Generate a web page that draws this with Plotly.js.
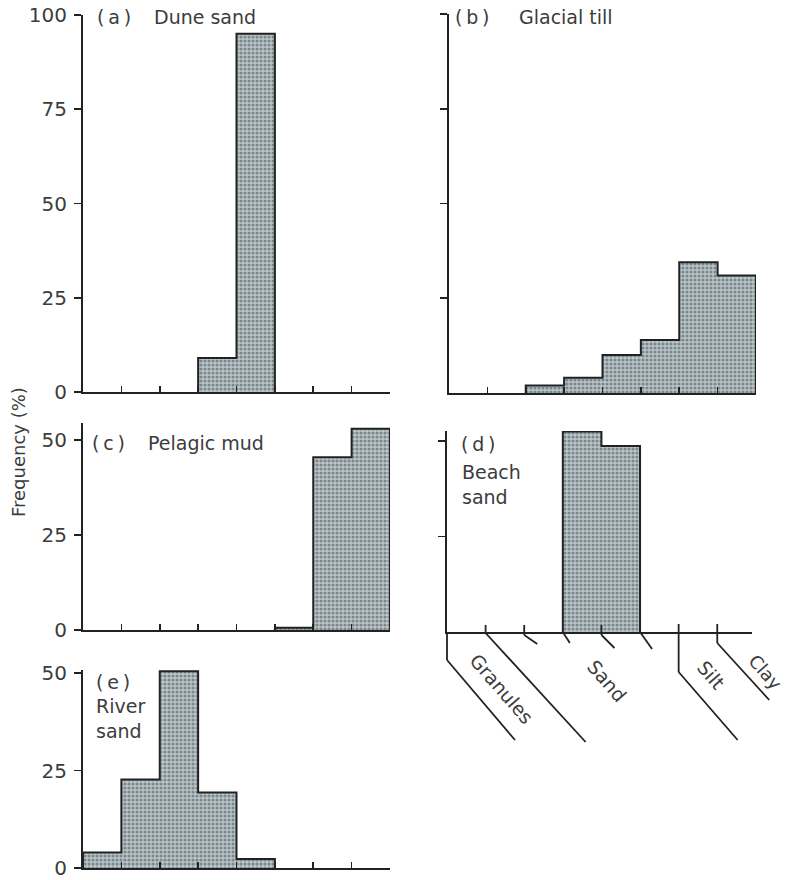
<!DOCTYPE html>
<html>
<head>
<meta charset="utf-8">
<script src="https://cdn.plot.ly/plotly-3.0.1.min.js"></script>
<style>html,body{margin:0;padding:0;background:#fff;}#chart{width:790px;height:880px;}</style>
</head>
<body>
<div id="chart"></div>
<script>
// ---- data (frequency % per grain-size class, 8 classes from coarse to fine) ----
const duneSand    = [0, 0, 0, 9, 95, 0, 0, 0];
const glacialTill = [0, 0, 2, 4, 10, 14, 34.5, 31];
const pelagicMud  = [0, 0, 0, 0, 0, 0.6, 45.5, 53];
const beachSand   = [0, 0, 0, 52.5, 48.7, 0, 0, 0];
const riverSand   = [4, 22.7, 50.5, 19.4, 2.3, 0, 0, 0];

const panelLetters = ['(\u2009a\u2009)', '(\u2009b\u2009)', '(\u2009c\u2009)', '(\u2009d\u2009)', '(\u2009e\u2009)'];
const panelNames   = ['Dune sand', 'Glacial till', 'Pelagic mud', 'Beach<br>sand', 'River<br>sand'];
const yTickVals   = [[0, 25, 50, 75, 100], [25, 50, 75, 100], [0, 25, 50], [25, 50], [0, 25, 50]];
const yTickText   = [['0', '25', '50', '75', '100'], null, ['0', '25', '50'], null, ['0', '25', '50']];
const sizeClassNames  = ['Granules', 'Sand', 'Silt', 'Clay'];
const classBoundaries = [0, 1, 2, 3, 4, 5, 6, 7];
const yAxisTitle = 'Frequency (%)';

// ---- layout helpers ----
const W = 790, H = 880;
const FONT = '"DejaVu Sans", "Noto Sans", sans-serif';
const INK = '#222';
const TXT = '#3c3c3c';
const px = v => v / W;
const py = v => 1 - v / H;

const series = [duneSand, glacialTill, pelagicMud, beachSand, riverSand];
// panel frames in pixels: [left, right, bottom, top], y range max
const frames = [
  {l: 83,  r: 390, b: 392, t: 15,  ymax: 100, xmax: 8},
  {l: 449, r: 756, b: 393, t: 14,  ymax: 100, xmax: 8},
  {l: 83,  r: 390, b: 630, t: 423, ymax: 54.5, xmax: 8},
  {l: 447, r: 752, b: 632, t: 431, ymax: 52.6, xmax: 7.9},
  {l: 83,  r: 390, b: 868, t: 670, ymax: 50.8, xmax: 8}
];

const traces = [];
const layout = {
  width: W, height: H,
  margin: {l: 0, r: 0, t: 0, b: 0},
  paper_bgcolor: '#fff', plot_bgcolor: 'rgba(0,0,0,0)',
  showlegend: false,
  font: {family: FONT, color: TXT},
  annotations: [], shapes: [],
  bargap: 0
};

series.forEach((vals, p) => {
  const k = p === 0 ? '' : String(p + 1);
  const xa = 'x' + k, ya = 'y' + k;
  const f = frames[p];
  const xs = vals.map((v, i) => i + 0.5);
  traces.push({
    type: 'bar', x: xs, y: vals.map(v => v > 0 ? v : null), width: 1,
    xaxis: xa, yaxis: ya,
    marker: {color: '#b8c3c5', line: {width: 0},
      pattern: {shape: '.', fgcolor: '#7a888d', bgcolor: '#bcc7c9', size: 4, solidity: 0.5}},
    hoverinfo: 'skip'
  });
  // step outline built from the same values
  const nz = vals.map((v, i) => v > 0 ? i : -1).filter(i => i >= 0);
  const s = nz[0], e = nz[nz.length - 1];
  const ox = [s], oy = [0];
  for (let i = s; i <= e; i++) { ox.push(i); oy.push(vals[i]); }
  ox.push(e + 1); oy.push(0);
  traces.push({
    type: 'scatter', mode: 'lines', x: ox, y: oy, xaxis: xa, yaxis: ya,
    line: {shape: 'hv', color: INK, width: 2}, hoverinfo: 'skip'
  });

  const isD = p === 3;
  layout['xaxis' + k] = {
    domain: [px(f.l), px(f.r)], range: [0, f.xmax], anchor: ya,
    showline: true, linecolor: INK, linewidth: 2, mirror: false,
    showgrid: false, zeroline: false, showticklabels: false,
    ticks: isD ? '' : 'inside', ticklen: 6, tickwidth: 1.6, tickcolor: INK,
    tickvals: [1, 2, 3, 4, 5, 6, 7, 8], fixedrange: true
  };
  const yt = {
    domain: [py(f.b), py(f.t)], range: [0, f.ymax], anchor: xa,
    showline: true, linecolor: INK, linewidth: 2,
    showgrid: false, zeroline: false,
    ticks: 'outside', ticklen: 7, tickwidth: 1.6, tickcolor: INK,
    tickvals: yTickVals[p], showticklabels: !!yTickText[p],
    tickfont: {family: FONT, size: 20, color: TXT}, ticklabelstandoff: 3,
    fixedrange: true
  };
  if (yTickText[p]) yt.ticktext = yTickText[p];
  layout['yaxis' + k] = yt;
});

// panel titles: letter position, name position (pixels; y = centre of first line)
const letterPos = [[95, 17], [453, 17], [90, 443], [459, 444], [94, 682]];
const namePos   = [[152, 17], [517, 17], [146, 443], [460, 484], [94, 718]];
panelLetters.forEach((t, p) => {
  layout.annotations.push({
    text: t, xref: 'paper', yref: 'paper', x: px(letterPos[p][0]), y: py(letterPos[p][1]),
    xanchor: 'left', yanchor: 'middle', align: 'left', showarrow: false,
    font: {family: FONT, size: 19, color: TXT}
  });
  layout.annotations.push({
    text: panelNames[p], xref: 'paper', yref: 'paper', x: px(namePos[p][0]), y: py(namePos[p][1]),
    xanchor: 'left', yanchor: 'middle', align: 'left', showarrow: false,
    font: {family: FONT, size: 19, color: TXT}
  });
});

// y axis title
layout.annotations.push({
  text: yAxisTitle, xref: 'paper', yref: 'paper', x: px(18), y: py(452),
  textangle: -90, showarrow: false, xanchor: 'center', yanchor: 'middle',
  font: {family: FONT, size: 18, color: TXT}
});

// grain-size class scale under panel (d)
const fd = frames[3];
const dX = v => px(fd.l + v / fd.xmax * (fd.r - fd.l));
const dY = off => py(fd.b + off);
// [top offset, knee offset, slant dx, slant bottom offset] per boundary (pixels)
const bracket = {
  0: [0, 28, 68, 108], 1: [-7, 1, 100, 110], 2: [-7, 3, 13, 12], 3: [0, 0, 7, 11],
  4: [-7, 3, 13, 16], 5: [0, 0, 12, 17], 6: [-8, 40, 59, 108], 7: [-8, 11, 52, 68]
};
classBoundaries.forEach(b => {
  const [top, knee, dx, bot] = bracket[b];
  const x0 = dX(b);
  layout.shapes.push({type: 'line', xref: 'paper', yref: 'paper',
    x0: x0, y0: dY(top), x1: x0, y1: dY(knee), line: {color: INK, width: 1.8}});
  layout.shapes.push({type: 'line', xref: 'paper', yref: 'paper',
    x0: x0, y0: dY(knee), x1: x0 + px(dx), y1: dY(bot), line: {color: INK, width: 1.8}});
});
const classLabelPos = [[502, 689], [607, 681], [711, 675], [766, 672]];
const classLabelSize = [19, 19, 19, 18];
sizeClassNames.forEach((n, i) => {
  layout.annotations.push({
    text: n, xref: 'paper', yref: 'paper', x: px(classLabelPos[i][0]), y: py(classLabelPos[i][1]),
    textangle: 49, showarrow: false, xanchor: 'center', yanchor: 'middle',
    font: {family: FONT, size: classLabelSize[i], color: TXT}
  });
});

Plotly.newPlot('chart', traces, layout, {staticPlot: true, displayModeBar: false});
</script>
</body>
</html>
